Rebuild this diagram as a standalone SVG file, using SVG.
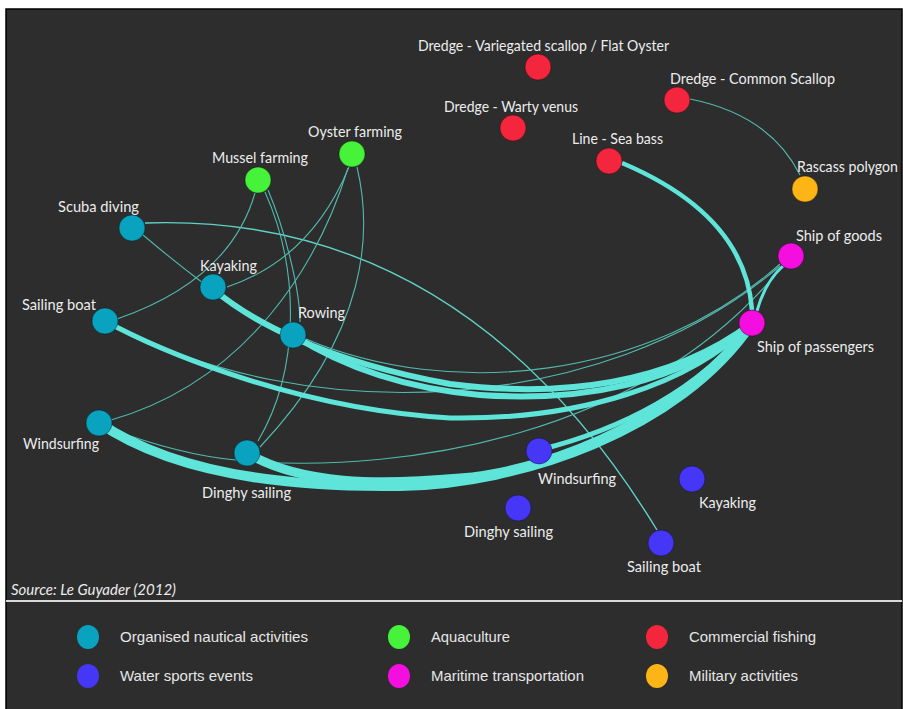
<svg xmlns="http://www.w3.org/2000/svg" width="903" height="709" viewBox="0 0 903 709">
<style>
.lbl{font-family:Lato,"Open Sans","Noto Sans",sans-serif;font-size:15px;fill:#ececec}
.leg{font-family:"Liberation Sans",Arial,sans-serif;font-size:15px;fill:#e6e6e6}
.thin{fill:none;stroke:#52b9ae;stroke-width:1.1}
.thin2{fill:none;stroke:#5fd3c8;stroke-width:1.4}
.band{fill:none;stroke:#5ee4d8;stroke-linecap:butt}
.n{stroke:rgba(0,0,0,0.35);stroke-width:1}
.teal{fill:#09a3c0}.green{fill:#46f23a}.red{fill:#f4263d}.orange{fill:#fdb515}.mag{fill:#f40ee0}.blue{fill:#4636f5}
</style>
<rect x="0" y="0" width="903" height="709" fill="#ffffff"/>
<rect x="6" y="9" width="896" height="701" fill="#2d2d2d" stroke="#000" stroke-width="1.5"/>
<line x1="6" y1="601" x2="902" y2="601" stroke="#d8d8d8" stroke-width="2"/>

<g id="edges">
  <!-- thin edges -->
  <path class="thin2" d="M145,223 Q463,212 657,530"/>
  <path class="thin" d="M143,235 Q175,262 203,283"/>
  <path class="thin" d="M255,193 Q230,280 117,319"/>
  <path class="thin" d="M268,190 C285,230 300,290 300,322"/>
  <path class="thin" d="M265,192 C300,270 300,370 258,441"/>
  <path class="thin" d="M349,167 Q311,259 227,287"/>
  <path class="thin" d="M348,168 C320,260 250,380 111,420"/>
  <path class="thin" d="M357,167 C372,230 370,330 260,447"/>
  <path class="thin" d="M108,428 Q180,455 236,460"/>
  <path class="thin" d="M306,339 C450,400 650,380 780,264"/>
  <path class="thin" d="M118,326 C300,425 600,420 780,266"/>
  <path class="thin" d="M260,462 C400,470 640,440 781,268"/>
  <path class="thin" d="M690,99 Q770,115 800,175"/>
  <!-- thick bands -->
  <path class="band" stroke-width="6" d="M213,289 C250,320 320,360 450,384 C560,398 670,385 752,323"/>
  <path class="band" stroke-width="6" stroke="#62e9dd" d="M293,335 C340,365 400,388 480,395 C580,402 680,385 752,323"/>
  <path class="band" stroke-width="5" d="M105,321 C140,340 280,408 450,418 C580,420 690,385 752,323"/>
  <path class="band" stroke-width="10" stroke="#55d8cd" d="M98,422 C160,465 260,488 400,486 C520,484 680,430 752,323"/>
  <path class="band" stroke-width="9" stroke="#6cf0e4" d="M247,453 C300,485 380,485 460,478 C560,470 690,410 752,323"/>
  <path class="band" stroke-width="5" d="M539,450 C620,430 700,390 752,323"/>
  <path class="band" stroke-width="4.5" d="M622,163 Q745,215 752,310"/>
  <path class="band" stroke-width="3" d="M783,266 Q765,282 757,311"/>
</g>

<g id="node-variegated"><circle class="n red" cx="538" cy="67" r="13"/><text class="lbl" x="418" y="51" textLength="251" lengthAdjust="spacingAndGlyphs">Dredge - Variegated scallop / Flat Oyster</text></g>
<g id="node-common-scallop"><circle class="n red" cx="677" cy="100" r="13"/><text class="lbl" x="670" y="84" textLength="165" lengthAdjust="spacingAndGlyphs">Dredge - Common Scallop</text></g>
<g id="node-warty-venus"><circle class="n red" cx="513" cy="128" r="13"/><text class="lbl" x="444" y="112" textLength="134" lengthAdjust="spacingAndGlyphs">Dredge - Warty venus</text></g>
<g id="node-sea-bass"><circle class="n red" cx="609" cy="161" r="13"/><text class="lbl" x="572" y="144" textLength="91" lengthAdjust="spacingAndGlyphs">Line - Sea bass</text></g>
<g id="node-rascass"><circle class="n orange" cx="805" cy="189" r="13"/><text class="lbl" x="797" y="172" textLength="101" lengthAdjust="spacingAndGlyphs">Rascass polygon</text></g>
<g id="node-ship-goods"><circle class="n mag" cx="791" cy="256" r="13"/><text class="lbl" x="796" y="241" textLength="86" lengthAdjust="spacingAndGlyphs">Ship of goods</text></g>
<g id="node-ship-passengers"><circle class="n mag" cx="752" cy="323" r="13"/><text class="lbl" x="757" y="352" textLength="117" lengthAdjust="spacingAndGlyphs">Ship of passengers</text></g>
<g id="node-oyster"><circle class="n green" cx="352" cy="154" r="13"/><text class="lbl" x="308" y="137" textLength="94" lengthAdjust="spacingAndGlyphs">Oyster farming</text></g>
<g id="node-mussel"><circle class="n green" cx="258" cy="180" r="13"/><text class="lbl" x="212" y="163" textLength="96" lengthAdjust="spacingAndGlyphs">Mussel farming</text></g>
<g id="node-scuba"><circle class="n teal" cx="132" cy="228" r="13"/><text class="lbl" x="58" y="212" textLength="81" lengthAdjust="spacingAndGlyphs">Scuba diving</text></g>
<g id="node-kayaking"><circle class="n teal" cx="213" cy="287" r="13"/><text class="lbl" x="200" y="271" textLength="57" lengthAdjust="spacingAndGlyphs">Kayaking</text></g>
<g id="node-sailing-boat"><circle class="n teal" cx="105" cy="321" r="13"/><text class="lbl" x="22" y="310" textLength="74" lengthAdjust="spacingAndGlyphs">Sailing boat</text></g>
<g id="node-rowing"><circle class="n teal" cx="293" cy="335" r="13"/><text class="lbl" x="298" y="318" textLength="47" lengthAdjust="spacingAndGlyphs">Rowing</text></g>
<g id="node-windsurfing"><circle class="n teal" cx="99" cy="423" r="13"/><text class="lbl" x="23" y="449" textLength="76" lengthAdjust="spacingAndGlyphs">Windsurfing</text></g>
<g id="node-dinghy"><circle class="n teal" cx="247" cy="453" r="13"/><text class="lbl" x="202" y="498" textLength="89" lengthAdjust="spacingAndGlyphs">Dinghy sailing</text></g>
<g id="node-windsurfing-event"><circle class="n blue" cx="539" cy="451" r="13"/><text class="lbl" x="538" y="484" textLength="78" lengthAdjust="spacingAndGlyphs">Windsurfing</text></g>
<g id="node-kayaking-event"><circle class="n blue" cx="692" cy="479" r="13"/><text class="lbl" x="699" y="508" textLength="57" lengthAdjust="spacingAndGlyphs">Kayaking</text></g>
<g id="node-dinghy-event"><circle class="n blue" cx="518" cy="508" r="13"/><text class="lbl" x="464" y="537" textLength="89" lengthAdjust="spacingAndGlyphs">Dinghy sailing</text></g>
<g id="node-sailing-boat-event"><circle class="n blue" cx="661" cy="543" r="13"/><text class="lbl" x="627" y="572" textLength="74" lengthAdjust="spacingAndGlyphs">Sailing boat</text></g>

<text x="11" y="595" font-family="Lato,'Open Sans',sans-serif" font-style="italic" font-size="15" fill="#ececec" textLength="165" lengthAdjust="spacingAndGlyphs">Source: Le Guyader (2012)</text>

<g id="legend">
  <ellipse class="teal" cx="88" cy="637" rx="11" ry="12"/>
  <text class="leg" x="120" y="642" textLength="188" lengthAdjust="spacingAndGlyphs">Organised nautical activities</text>
  <ellipse class="green" cx="399" cy="637" rx="11" ry="12"/>
  <text class="leg" x="431" y="642" textLength="79" lengthAdjust="spacingAndGlyphs">Aquaculture</text>
  <ellipse class="red" cx="657" cy="637" rx="11" ry="12"/>
  <text class="leg" x="689" y="642" textLength="127" lengthAdjust="spacingAndGlyphs">Commercial fishing</text>
  <ellipse class="blue" cx="88" cy="676" rx="11" ry="12"/>
  <text class="leg" x="120" y="681" textLength="133" lengthAdjust="spacingAndGlyphs">Water sports events</text>
  <ellipse class="mag" cx="399" cy="676" rx="11" ry="12"/>
  <text class="leg" x="431" y="681" textLength="153" lengthAdjust="spacingAndGlyphs">Maritime transportation</text>
  <ellipse class="orange" cx="657" cy="676" rx="11" ry="12"/>
  <text class="leg" x="689" y="681" textLength="109" lengthAdjust="spacingAndGlyphs">Military activities</text>
</g>
</svg>
